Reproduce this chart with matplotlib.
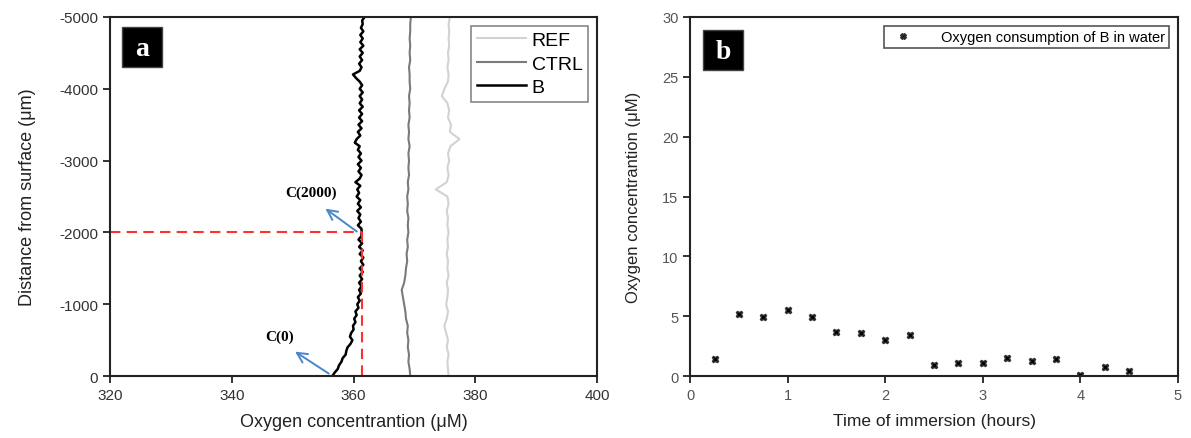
import matplotlib
matplotlib.use("Agg")
import matplotlib.pyplot as plt
from matplotlib.patches import Rectangle
import numpy as np

plt.rcParams['font.family'] = ['Liberation Sans', 'DejaVu Sans']
plt.rcParams['axes.unicode_minus'] = False

# --- panel a: oxygen profiles vs depth (um)
depth_b = np.arange(0, -5001, -50)    # B sampled every 50 um
depth = np.arange(0, -5001, -100)     # CTRL / REF every 100 um

o2_b = [356.5, 356.9, 357.4, 357.6, 358.0, 358.2, 358.7, 358.8, 359.0, 359.5,
        359.8, 359.4, 359.6, 360.0, 359.9, 360.3, 360.1, 360.5, 360.3, 360.8,
        360.6, 361.0, 360.7, 361.2, 360.9, 361.3, 360.9, 361.4, 361.0, 361.5,
        361.0, 361.6, 361.2, 361.6, 361.0, 361.5, 360.9, 361.4, 360.8, 361.3,
        361.3, 361.3, 360.7, 361.2, 360.8, 361.1, 360.6, 361.2, 360.7, 361.1,
        360.5, 360.9, 360.6, 361.1, 360.3, 361.0, 361.3, 360.8, 361.2, 360.7,
        361.3, 360.8, 361.2, 360.7, 361.0, 360.2, 360.5, 361.1, 360.7, 361.3,
        360.8, 361.4, 360.9, 361.4, 360.9, 361.5, 361.0, 361.4, 361.0, 361.5,
        361.0, 361.4, 361.0, 360.4, 359.9, 361.0, 361.3, 360.9, 361.4, 361.0,
        361.5, 361.0, 361.6, 361.1, 361.5, 361.1, 361.6, 361.2, 361.5, 361.4,
        361.8]
o2_ctrl = [369.3, 369.2, 369.0, 369.1, 368.9, 369.0, 368.8, 368.9, 368.6, 368.5,
           368.3, 368.1, 367.9, 368.3, 368.5, 368.6, 368.8, 368.7, 368.9, 368.8,
           369.0, 368.9, 369.0, 368.8, 368.9, 368.8, 369.0, 368.9, 369.1, 369.0,
           369.1, 369.0, 369.2, 369.0, 369.1, 369.0, 369.2, 369.1, 369.2, 369.1,
           369.3, 369.2, 369.2, 369.1, 369.3, 369.2, 369.3, 369.2, 369.3, 369.3,
           369.4]
o2_ref = [375.6, 375.5, 375.4, 375.6, 375.3, 375.5, 375.2, 374.9, 375.3, 375.5,
          375.2, 375.4, 375.5, 375.3, 375.6, 375.4, 375.5, 375.3, 375.5, 375.4,
          375.6, 375.4, 375.5, 375.3, 375.6, 375.4, 373.5, 375.3, 375.6, 375.4,
          375.7, 375.5, 375.9, 377.4, 375.8, 376.0, 375.5, 375.7, 375.4, 374.5,
          374.9, 375.5, 375.6, 375.4, 375.6, 375.5, 375.7, 375.6, 375.7, 375.6,
          375.8]

c2000_x, c2000_d = 361.4, -2000

# --- panel b: oxygen consumption over time
hours = [0.25, 0.5, 0.75, 1.0, 1.25, 1.5, 1.75, 2.0, 2.25,
         2.5, 2.75, 3.0, 3.25, 3.5, 3.75, 4.0, 4.25, 4.5]
consumption = [1.4, 5.2, 4.9, 5.5, 4.9, 3.7, 3.6, 3.0, 3.4,
               0.9, 1.1, 1.1, 1.5, 1.3, 1.4, 0.1, 0.8, 0.4]

fig = plt.figure(figsize=(11.91, 4.39), dpi=100)
ax1 = fig.add_axes([0.0924, 0.141, 0.409, 0.818])
ax2 = fig.add_axes([0.5795, 0.141, 0.4095, 0.818])


def panel_tag(ax, letter, x0, y0):
    ax.add_patch(Rectangle((x0, y0), 0.082, 0.112, transform=ax.transAxes,
                           facecolor='black', edgecolor='#444444', lw=1, zorder=5))
    ax.text(x0 + 0.041, y0 + 0.052, letter, transform=ax.transAxes, color='white',
            family='Liberation Serif', fontweight='bold', fontsize=20,
            ha='center', va='center', zorder=6)


# panel a
ax1.plot(o2_ref, depth, color='#d2d2d2', lw=1.5, label='REF')
ax1.plot(o2_ctrl, depth, color='#7a7a7a', lw=1.5, label='CTRL')
ax1.plot(o2_b, depth_b, color='black', lw=1.8, label='B')
ax1.plot([320, c2000_x], [c2000_d, c2000_d], color='#ff3030', ls=(0, (5, 3)), lw=1.5)
ax1.plot([c2000_x, c2000_x], [c2000_d, 0], color='#ff3030', ls=(0, (5, 3)), lw=1.5)

arrow = dict(arrowstyle='->', color='#4a86c8', lw=1.4, mutation_scale=18)
ax1.annotate('', xy=(355.0, -2354), xytext=(360.9, -1990), arrowprops=arrow)
ax1.annotate('', xy=(350.0, -362), xytext=(356.3, -14), arrowprops=arrow)
ax1.text(353.0, -2563, 'C(2000)', family='Liberation Serif', fontweight='bold',
         fontsize=11, ha='center', va='center')
ax1.text(347.9, -557, 'C(0)', family='Liberation Serif', fontweight='bold',
         fontsize=11, ha='center', va='center')

ax1.set_xlim(320, 400)
ax1.set_ylim(0, -5000)
ax1.set_xticks([320, 340, 360, 380, 400])
ax1.set_yticks([0, -1000, -2000, -3000, -4000, -5000])
ax1.set_xlabel('Oxygen concentrantion (\u03bcM)', fontsize=13, labelpad=8, color='#222222')
ax1.set_ylabel('Distance from surface (\u03bcm)', fontsize=13, labelpad=17, color='#222222')
leg = ax1.legend(loc='upper right', fontsize=14, handlelength=2.5, labelspacing=0.3,
                 fancybox=False, borderpad=0.3, handletextpad=0.3,
                 borderaxespad=0.45, framealpha=1)
leg.get_frame().set_edgecolor('#888888')
leg.get_frame().set_linewidth(1.2)
panel_tag(ax1, 'a', 0.025, 0.86)

# panel b
ax2.plot(hours, consumption, ls='none', marker='X', ms=5, color='black',
         mec='#333333', label='Oxygen consumption of B in water')
ax2.set_xlim(0, 5)
ax2.set_ylim(0, 30)
ax2.set_xticks(range(0, 6))
ax2.set_yticks(range(0, 31, 5))
ax2.set_xlabel('Time of immersion (hours)', fontsize=12.5, labelpad=8, color='#222222')
ax2.set_ylabel('Oxygen concentrantion (\u03bcM)', fontsize=12, labelpad=15, color='#222222')
leg2 = ax2.legend(loc='upper right', fontsize=10.5, fancybox=False, framealpha=1,
                  borderpad=0.3, handletextpad=1.6, borderaxespad=0.6, markerscale=0.8)
leg2.get_frame().set_edgecolor('#555555')
leg2.get_frame().set_linewidth(1.2)
panel_tag(ax2, 'b', 0.027, 0.852)

for ax in (ax1, ax2):
    for s in ax.spines.values():
        s.set_linewidth(1.5)
        s.set_color('#222222')
    ax.tick_params(direction='out', length=5, width=1.3, labelsize=11,
                   labelcolor='#333333', color='#222222')
ax2.tick_params(labelsize=10.5, labelcolor='#555555')

fig.savefig('out.png', dpi=100)
